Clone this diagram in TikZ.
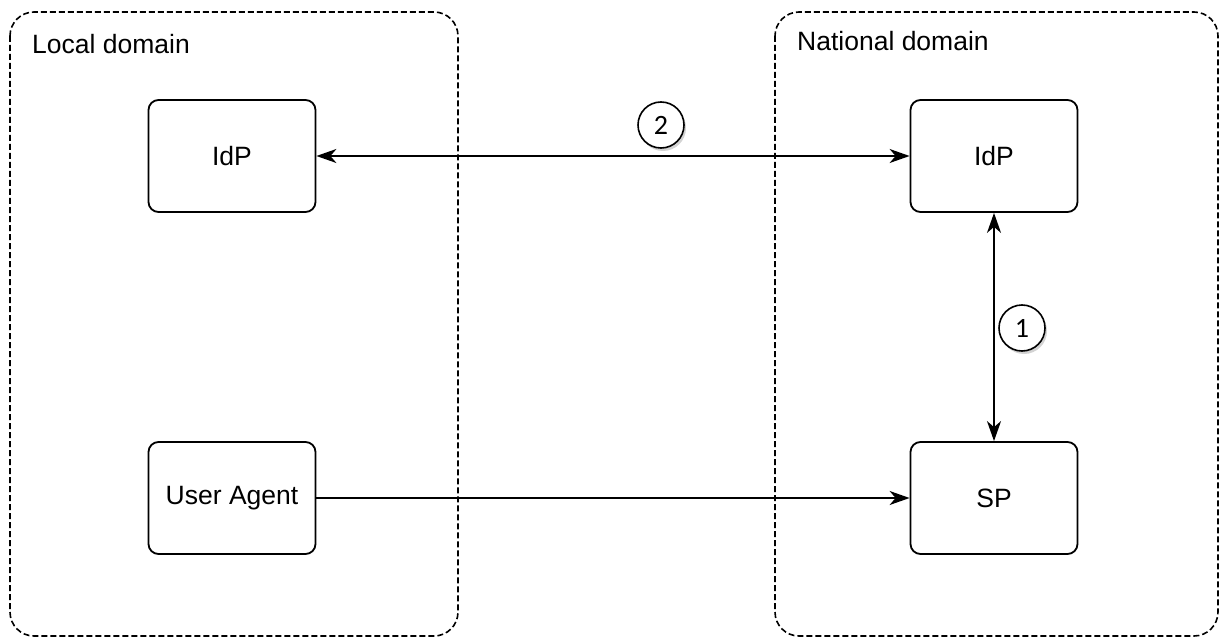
\documentclass[tikz,border=0pt]{standalone}
\usepackage{fontspec}
\setmainfont{Liberation Sans}
\newfontfamily\numfont{Carlito}
\usetikzlibrary{arrows.meta,shadows}
\begin{document}
\begin{tikzpicture}[x=1pt,y=-1pt,
  domainbox/.style={draw,line width=1.6pt,rounded corners=24pt,dash pattern=on 6pt off 3pt},
  entity/.style={draw,line width=1.8pt,rounded corners=10pt,minimum width=167pt,minimum height=112pt,font=\fontsize{26.5}{30}\selectfont,inner sep=0pt},
  conn/.style={line width=1.6pt,{Stealth[length=20pt,width=14pt,inset=6pt]}-{Stealth[length=20pt,width=14pt,inset=6pt]}},
  oneway/.style={line width=1.6pt,-{Stealth[length=20pt,width=14pt,inset=6pt]}},
  num/.style={circle,draw,line width=1.6pt,fill=white,minimum size=46pt,inner sep=0pt,font=\numfont\fontsize{28}{32}\selectfont,drop shadow={shadow xshift=2pt,shadow yshift=-3pt,opacity=0.35}},
  dlabel/.style={anchor=west,font=\fontsize{26.5}{30}\selectfont,inner sep=0pt}]
\useasboundingbox (0,0) rectangle (1228,639);
\draw[domainbox] (10,12) rectangle (458,636);
\draw[domainbox] (775,12) rectangle (1218,636);
\node[dlabel] (ld) at (32,44) {Local domain};
\node[dlabel] (nd) at (797,41) {National domain};
\node[entity] (lidp) at (232,156) {IdP};
\node[entity] (ua) at (232,498) {User Agent};
\node[entity] (nidp) at (994,156) {IdP};
\node[entity] (sp) at (994,498) {SP};
\draw[conn] (lidp.east) -- (nidp.west);
\draw[oneway] (ua.east) -- (sp.west);
\draw[conn] (nidp.south) -- (sp.north);
\node[num] (n2) at (661,125) {2};
\node[num] (n1) at (1022,328) {1};
\end{tikzpicture}
\end{document}
